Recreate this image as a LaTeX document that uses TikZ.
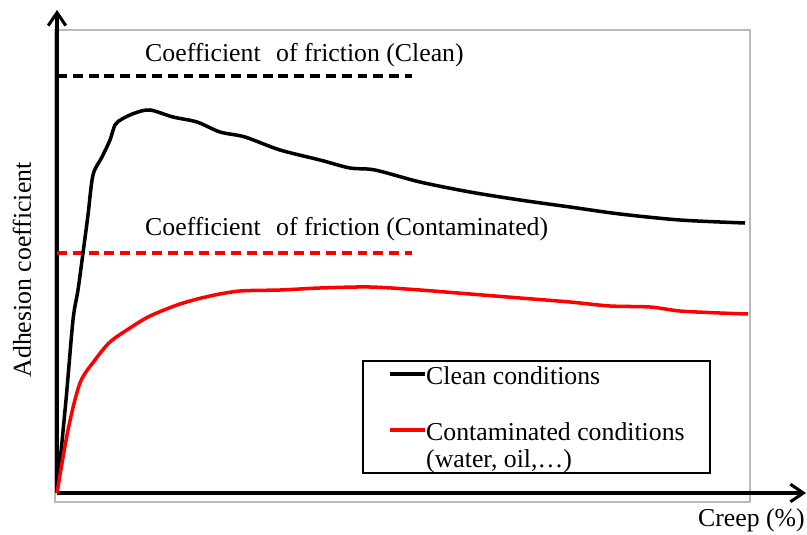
\documentclass[tikz,border=0pt]{standalone}
\usepackage{fontspec}
\setmainfont{Liberation Serif}
\usetikzlibrary{arrows.meta}
\begin{document}
\begin{tikzpicture}[x=0.03cm,y=-0.03cm,
    axis/.style={line width=3pt,-{Straight Barb[length=11pt,width=15pt,line width=2.6pt]}},
    curve/.style={line width=3pt,smooth,tension=0.5},
    friction/.style={line width=2.6pt,dash pattern=on 8.5pt off 5pt},
    lbl/.style={font=\fontsize{22}{26}\selectfont,inner sep=0pt}]
    \useasboundingbox (0,0) rectangle (807,535);
    \draw[gray!55,line width=0.9pt] (55,30) rectangle (750,502);
    % axes
    \coordinate (o) at (57,493);
    \draw[axis] (o) -- (57,10);
    \draw[axis] (o) -- (806,493);
    \node[lbl,rotate=90] (ylab) at (22,270) {Adhesion coefficient};
    \node[lbl,anchor=east] (xlab) at (805,520) {Creep (\%)};
    % friction levels
    \draw[friction,black] (57,76) -- (412,76);
    \draw[friction,red] (57,253) -- (412,253);
    \node[lbl,anchor=west] (fclean) at (145,55) {Coefficient\hspace{0.35em} of friction (Clean)};
    \node[lbl,anchor=west] (fcont) at (145,229) {Coefficient\hspace{0.35em} of friction (Contaminated)};
    % clean curve
    \draw[curve,black] plot coordinates {(57,493) (66,400) (73,320) (78,290) (83,253) (88,215)
        (93,175) (102,157) (110,140) (115,125) (122,119) (135,113) (150,110) (173,117) (197,122)
        (220,132) (245,137) (280,150) (320,160) (350,168) (375,170) (420,182) (470,192)
        (520,200) (570,207) (620,214) (680,220) (745,223)};
    % contaminated curve
    \draw[curve,red] plot coordinates {(57,493) (68,430) (80,383) (95,360) (110,342)
        (130,328) (150,316) (180,304) (210,296) (240,291) (280,290) (320,288) (370,287)
        (420,290) (470,294) (520,298) (570,302) (610,306) (650,307) (680,311) (720,313)
        (748,314)};
    % legend
    \node[draw,line width=2.2pt,minimum width=347*0.03cm,minimum height=112*0.03cm,
        inner sep=0pt] (legend) at (536.5,417) {};
    \draw[line width=2.6pt,black] (390,374) -- (425,374);
    \draw[line width=2.6pt,red] (390,430) -- (425,430);
    \node[lbl,anchor=west] (lclean) at (426,376) {Clean conditions};
    \node[lbl,anchor=west] (lcont) at (426,432) {Contaminated conditions};
    \node[lbl,anchor=west] (lcont2) at (426,461) {(water, oil,\dots)};
\end{tikzpicture}
\end{document}
